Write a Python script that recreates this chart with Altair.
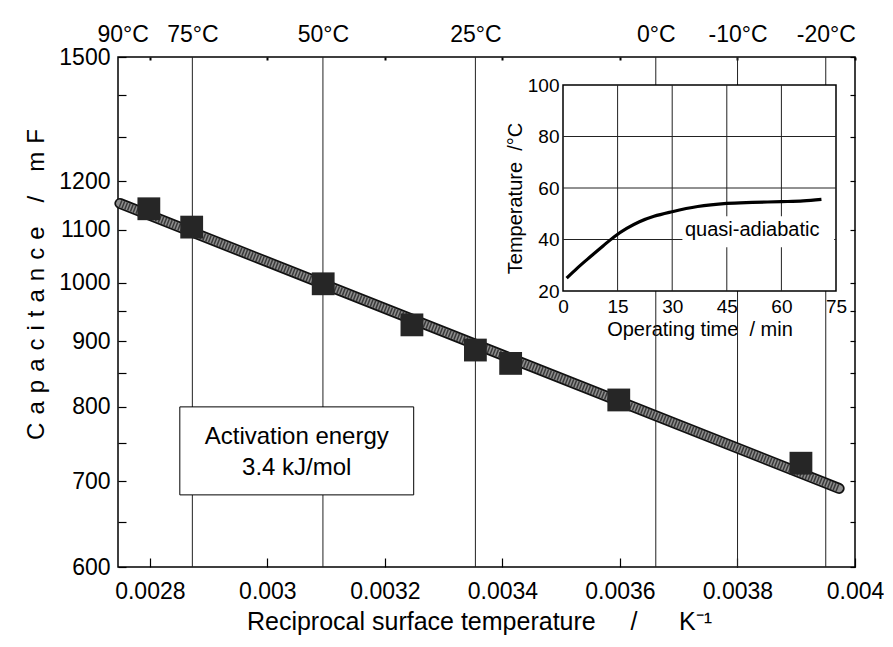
import altair as alt
import pandas as pd

# ---------------- data ----------------
recip_T = [0.0027983, 0.0028712, 0.003095, 0.003246, 0.003354, 0.003414, 0.003598, 0.003908]
capacitance = [1142, 1105, 998, 927, 886, 865, 810, 723]
fit_recip_T = [0.002749, 0.003973]
fit_capacitance = [1153, 691]

x_ticks = [0.0028, 0.003, 0.0032, 0.0034, 0.0036, 0.0038, 0.004]
y_ticks = [600, 700, 800, 900, 1000, 1100, 1200, 1500]
y_minor = [650, 750, 850, 950, 1300, 1400]
top_temps_C = [90, 75, 50, 25, 0, -10, -20]
grid_temps_C = [75, 50, 25, 0, -10, -20]

inset_time = [1, 4, 7.5, 11, 14, 17.5, 21, 25, 30, 37, 45, 52, 60, 66, 71]
inset_temp = [25, 29, 33.3, 37.5, 41, 44.3, 46.9, 49, 50.8, 52.8, 54, 54.4, 54.7, 55, 55.6]
inset_xticks = [0, 15, 30, 45, 60, 75]
inset_yticks = [20, 40, 60, 80, 100]
inset_vgrid = [15, 30, 45, 60]
inset_hgrid = [40, 60, 80]

box_lines = ["Activation energy", "3.4 kJ/mol"]
inset_label = "quasi-adiabatic"

# ---------------- layout ----------------
FONT = "Liberation Sans"
NB = "\u00a0"
W, H = 737, 510
X_DOMAIN = [0.0027458, 0.004]
Y_DOMAIN = [600, 1500]
INSET_X_RANGE = [445, 718]
INSET_Y_RANGE = [234, 28]


def xs():
    return alt.Scale(domain=X_DOMAIN, nice=False, zero=False)


def ys():
    return alt.Scale(type="log", domain=Y_DOMAIN, nice=False)


sp = "\u2004"
y_title = sp.join("Capacitance") + sp * 3 + "/" + sp * 3 + sp.join("mF")
x_title = "Reciprocal surface temperature" + NB * 5 + "/" + NB * 6 + "K\u207b\u00b9"

main_x_axis = alt.Axis(orient="bottom", values=x_ticks, format="~g", grid=False, ticks=False,
                       domain=False, labelFontSize=23, labelPadding=13, labelFlush=False,
                       labelOverlap=False, title=x_title,
                       titleFontSize=25, titlePadding=6, titleX=361)
main_y_axis = alt.Axis(orient="left", values=y_ticks, format="d", grid=False, ticks=False,
                       domain=False, labelFontSize=23, labelPadding=8, labelOverlap=False,
                       title=y_title, titleFontSize=24, titlePadding=10, titleY=227)

# ---- temperature gridlines + top axis ----
grid_df = pd.DataFrame({"r": [1 / (t + 273.15) for t in grid_temps_C]})
top_axis = alt.Axis(orient="top", values=[1 / (t + 273.15) for t in top_temps_C],
                    labelExpr="round(1/datum.value - 273.15) + '°C'", ticks=False,
                    domain=False, grid=False, labelFontSize=23, labelPadding=11,
                    labelFlush=False, labelOverlap=False, title=None)
grid_layer = alt.Chart(grid_df).mark_rule(color="#222", strokeWidth=1).encode(
    x=alt.X("r:Q", scale=xs(), axis=top_axis)
)

# ---- inset ----
xs_in = alt.Scale(domain=[0, 75], range=INSET_X_RANGE, nice=False, zero=False)
ys_in = alt.Scale(domain=[20, 100], range=INSET_Y_RANGE, nice=False, zero=False)
inset_x_axis = alt.Axis(orient="bottom", offset=INSET_Y_RANGE[0] - H, values=inset_xticks,
                        grid=False, ticks=False, domain=False, labelFontSize=19,
                        labelPadding=6, labelFlush=False, labelOverlap=False,
                        title="Operating time" + NB * 2 + "/ min", titleFontSize=20,
                        titlePadding=3)
inset_y_axis = alt.Axis(orient="left", offset=-INSET_X_RANGE[0], values=inset_yticks,
                        grid=False, ticks=False, domain=False, labelFontSize=19,
                        labelPadding=4, labelOverlap=False,
                        title="Temperature" + NB * 2 + "/°C", titleFontSize=20, titlePadding=2,
                        titleY=141)

bg_df = pd.DataFrame({"x": [0], "x2": [75], "y": [20], "y2": [100]})
inset_bg = alt.Chart(bg_df).mark_rect(fill="white", stroke="black", strokeWidth=1.5).encode(
    x=alt.X("x:Q", scale=xs_in, axis=inset_x_axis), x2="x2:Q",
    y=alt.Y("y:Q", scale=ys_in, axis=inset_y_axis), y2="y2:Q",
)
vgrid_df = pd.DataFrame({"t": inset_vgrid, "lo": 20, "hi": 100})
inset_vg = alt.Chart(vgrid_df).mark_rule(color="#222", strokeWidth=1).encode(
    x="t:Q", y="lo:Q", y2="hi:Q")
hgrid_df = pd.DataFrame({"T": inset_hgrid, "lo": 0, "hi": 75})
inset_hg = alt.Chart(hgrid_df).mark_rule(color="#222", strokeWidth=1).encode(
    y="T:Q", x="lo:Q", x2="hi:Q")
lab_bg_df = pd.DataFrame({"x": [32.8], "x2": [74.5], "y": [37.0], "y2": [49.0]})
inset_lab_bg = alt.Chart(lab_bg_df).mark_rect(fill="white").encode(
    x="x:Q", x2="x2:Q", y="y:Q", y2="y2:Q")
lab_df = pd.DataFrame({"x": [33.5], "y": [43.5], "text": [inset_label]})
inset_lab = alt.Chart(lab_df).mark_text(align="left", baseline="middle", fontSize=20,
                                        font=FONT, color="black").encode(
    x="x:Q", y="y:Q", text="text:N")
curve_df = pd.DataFrame({"t": inset_time, "T": inset_temp})
inset_curve = alt.Chart(curve_df).mark_line(color="black", strokeWidth=3.2,
                                            interpolate="monotone").encode(
    x="t:Q", y="T:Q")
inset_layer = alt.layer(inset_bg, inset_vg, inset_hg, inset_lab_bg, inset_lab, inset_curve)

# ---- main data ----
fit_df = pd.DataFrame({"x": fit_recip_T, "y": fit_capacitance})
pts_df = pd.DataFrame({"x": recip_T, "y": capacitance})
enc = dict(x=alt.X("x:Q", scale=xs(), axis=main_x_axis),
           y=alt.Y("y:Q", scale=ys(), axis=main_y_axis))
band_outer = alt.Chart(fit_df).mark_line(color="#111", strokeWidth=11, strokeCap="round").encode(**enc)
band_inner = alt.Chart(fit_df).mark_line(color="#8e8e8e", strokeWidth=7.5, strokeCap="round").encode(**enc)
band_hatch = alt.Chart(fit_df).mark_line(color="#3a3a3a", strokeWidth=7.5,
                                         strokeDash=[1.5, 1.5]).encode(**enc)
points = alt.Chart(pts_df).mark_square(size=520, color="#262626", opacity=1).encode(**enc)

box_df = pd.DataFrame({"x": [0.002851], "x2": [0.003249], "y": [800], "y2": [683]})
box = alt.Chart(box_df).mark_rect(fill="white", stroke="black", strokeWidth=1).encode(
    x=alt.X("x:Q", scale=xs(), axis=main_x_axis), x2="x2:Q",
    y=alt.Y("y:Q", scale=ys(), axis=main_y_axis), y2="y2:Q")
box_txt_df = pd.DataFrame({"x": [0.00305, 0.00305], "y": [758, 717], "text": box_lines})
box_txt = alt.Chart(box_txt_df).mark_text(fontSize=24, font=FONT, color="black").encode(
    x=alt.X("x:Q", scale=xs(), axis=main_x_axis),
    y=alt.Y("y:Q", scale=ys(), axis=main_y_axis), text="text:N")

main_layer = alt.layer(box, box_txt, band_outer, band_inner, band_hatch, points)

# ---- inward tick layers ----
tick_layer1 = alt.Chart(pts_df).mark_point(opacity=0).encode(
    x=alt.X("x:Q", scale=xs(), axis=alt.Axis(orient="top", offset=-H, values=x_ticks,
                                             labels=False, domain=False, grid=False,
                                             ticks=True, tickSize=9, tickColor="black",
                                             tickWidth=1.2, title=None)),
    y=alt.Y("y:Q", scale=ys(), axis=alt.Axis(orient="right", offset=-W,
                                             values=y_ticks + y_minor, labels=False,
                                             domain=False, grid=False, ticks=True,
                                             tickSize=8, tickColor="black", tickWidth=1.2,
                                             title=None)),
)
tick_layer2 = alt.Chart(pts_df).mark_point(opacity=0).encode(
    x=alt.X("x:Q", scale=xs(), axis=alt.Axis(orient="bottom", offset=-H, values=x_ticks,
                                             labels=False, domain=False, grid=False,
                                             ticks=True, tickSize=3, tickColor="black",
                                             tickWidth=2, title=None)),
    y=alt.Y("y:Q", scale=ys(), axis=alt.Axis(orient="left", offset=-W,
                                             values=y_ticks + y_minor, labels=False,
                                             domain=False, grid=False, ticks=True,
                                             tickSize=5, tickColor="black", tickWidth=1.2,
                                             title=None)),
)

chart = alt.layer(grid_layer, inset_layer, main_layer, tick_layer1, tick_layer2).resolve_scale(
    x="independent", y="independent"
).properties(
    width=W, height=H,
    padding={"left": 16, "top": 15, "right": 0, "bottom": 5},
    background="white",
).configure_axis(
    labelFont=FONT, titleFont=FONT, labelColor="black", titleColor="black",
    titleFontWeight="normal",
).configure_view(stroke="black", strokeWidth=1.5)

chart.save("out.html", embed_options={"renderer": "svg", "actions": False})
